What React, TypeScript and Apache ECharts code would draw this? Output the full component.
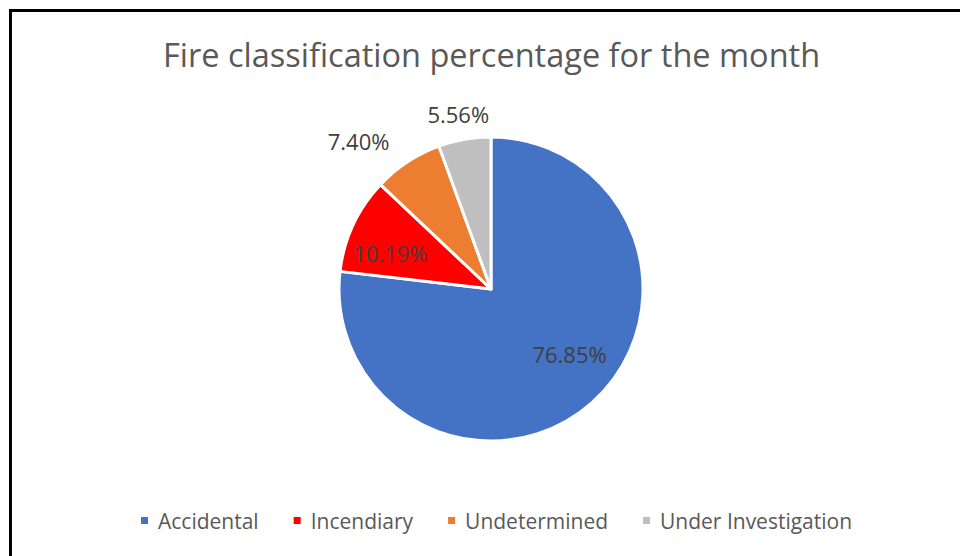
import React, { useEffect, useRef } from "react";
import * as echarts from "echarts";

const titleText = "Fire classification percentage for the month";
const categories = ["Accidental", "Incendiary", "Undetermined", "Under Investigation"];
const values = [76.85, 10.19, 7.4, 5.56];
const colors = ["#4472C4", "#FF0000", "#ED7D31", "#BFBFBF"];
// label nudges from the default inside position (px)
const labelNudges: [number, number][] = [
  [26, 6],
  [-29, -3],
  [-89, -82],
  [-19, -97],
];

export default function App() {
  const ref = useRef<HTMLDivElement>(null);
  useEffect(() => {
    if (!ref.current) return;
    const chart = echarts.init(ref.current, undefined, { renderer: "svg" });
    chart.setOption({
      animation: false,
      title: {
        text: titleText,
        left: 158,
        top: 33,
        textStyle: {
          fontFamily: "Open Sans",
          fontSize: 32.5,
          fontWeight: "normal",
          color: "#595959",
        },
      },
      legend: {
        data: categories,
        left: 134,
        top: 505,
        icon: "rect",
        itemWidth: 9,
        itemHeight: 9,
        itemGap: 33,
        textStyle: {
          fontFamily: "Open Sans",
          fontSize: 21,
          color: "#595959",
          padding: [0, 0, 0, 4],
        },
      },
      series: [
        {
          type: "pie",
          center: [491, 289],
          radius: [0, 152],
          startAngle: 90,
          clockwise: true,
          itemStyle: { borderColor: "#ffffff", borderWidth: 3 },
          label: {
            show: true,
            position: "inside",
            formatter: (p: any) => p.value.toFixed(2) + "%",
            fontFamily: "Open Sans",
            fontSize: 22,
            color: "#404040",
          },
          labelLine: { show: false },
          labelLayout: (p: any) => ({
            dx: labelNudges[p.dataIndex][0],
            dy: labelNudges[p.dataIndex][1],
          }),
          emphasis: { disabled: true },
          data: categories.map((c, i) => ({
            name: c,
            value: values[i],
            itemStyle: { color: colors[i] },
          })),
        },
      ],
    });
    return () => chart.dispose();
  }, []);

  return (
    <div
      style={{
        position: "fixed",
        left: 0,
        top: 0,
        width: 960,
        height: 556,
        overflow: "hidden",
        background: "#ffffff",
      }}
    >
      <div
        style={{
          position: "absolute",
          left: 9,
          top: 9,
          width: 1000,
          height: 600,
          border: "3px solid #000000",
        }}
      />
      <div ref={ref} style={{ position: "absolute", left: 0, top: 0, width: 960, height: 556 }} />
    </div>
  );
}
